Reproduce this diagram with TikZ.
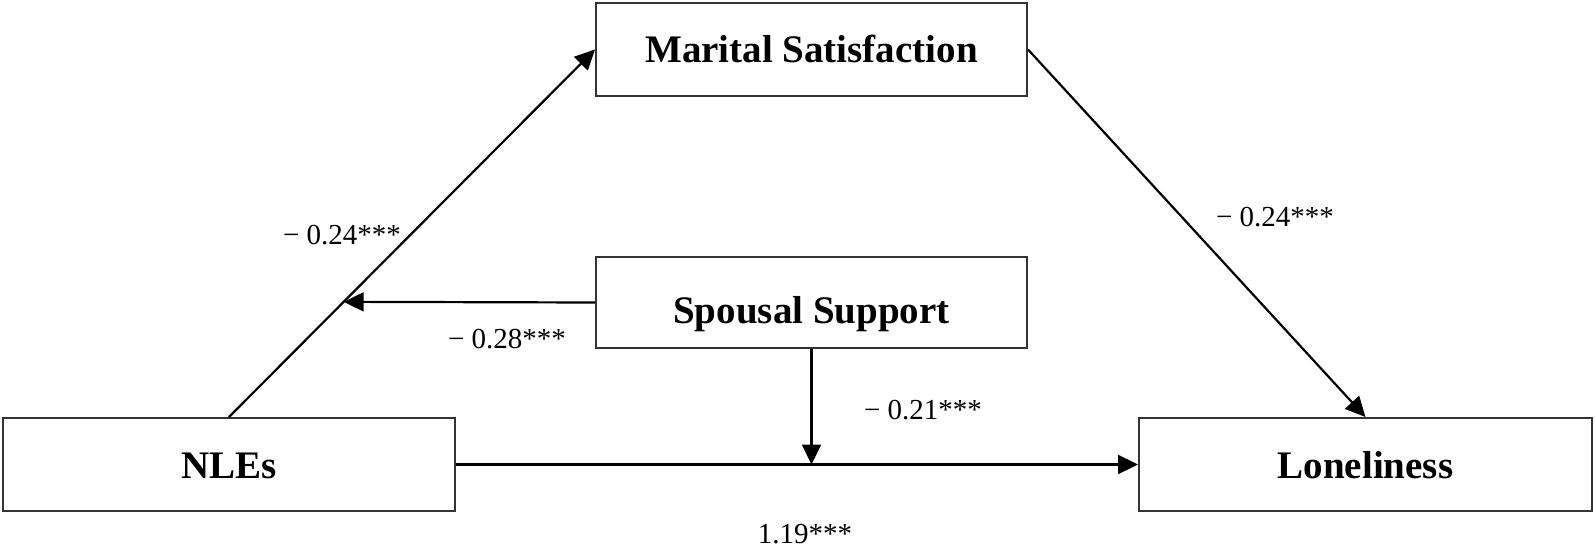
\documentclass[tikz,border=0pt]{standalone}
\usepackage{fontspec}
\setmainfont{Liberation Serif}
\usetikzlibrary{arrows.meta,calc}
\begin{document}
\begin{tikzpicture}[x=1pt,y=-1pt,
  box/.style={draw=black!80,line width=2pt,rectangle,inner sep=0pt,
    font=\fontsize{39}{44}\selectfont\bfseries,text height=26pt,text depth=0pt},
  conn/.style={line width=2.2pt,-{Triangle[length=20pt,width=19pt]}},
  lbl/.style={font=\fontsize{29}{34}\selectfont,anchor=base,inner sep=0pt}]
\useasboundingbox (0,0) rectangle (1595,551);
\fill[white] (0,0) rectangle (1595,551);
\node[box,minimum width=431pt,minimum height=93pt] (mar) at (811.5,49.5) {Marital Satisfaction};
\node[box,minimum width=431pt,minimum height=91pt,text height=42pt] (sps) at (811.5,302.5) {Spousal Support};
\node[box,minimum width=452pt,minimum height=93pt,text height=27pt] (nle) at (229,464.5) {NLEs};
\node[box,minimum width=453pt,minimum height=93pt,text height=27pt] (lon) at (1365.5,464.5) {Loneliness};
\coordinate (m) at ($(nle.north)!0.3134!(mar.west)$);
\coordinate (n) at (sps.south |- nle.east);
\draw[conn] (nle.north) -- (mar.west);
\draw[conn] (mar.east) -- (lon.north);
\draw[conn] (nle.east) -- (lon.west);
\draw[conn] (sps.west) -- (m);
\draw[conn] (sps.south) -- (n);
\node[lbl] (l1) at (342,244) {\textminus\ 0.24***};
\node[lbl] (l2) at (507,348) {\textminus\ 0.28***};
\node[lbl] (l3) at (1275,226) {\textminus\ 0.24***};
\node[lbl] (l4) at (923,419) {\textminus\ 0.21***};
\node[lbl] (l5) at (805,543) {1.19***};
\end{tikzpicture}
\end{document}
